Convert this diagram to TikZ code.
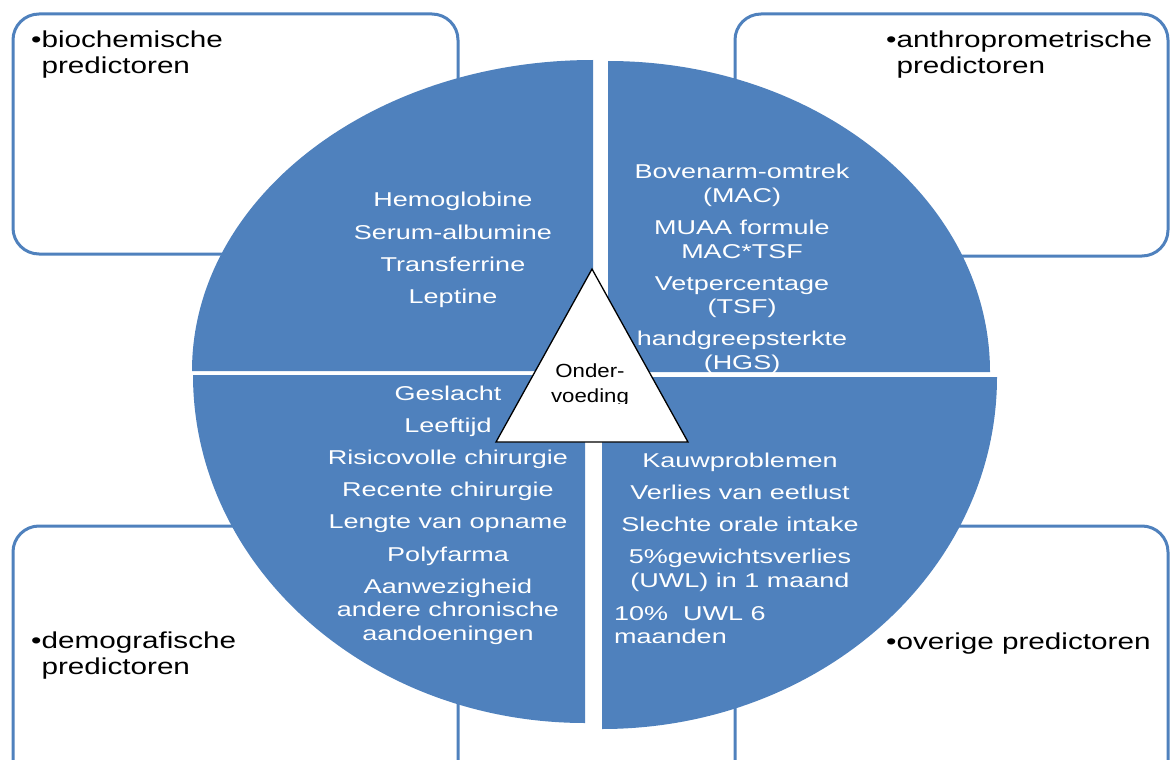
\documentclass[tikz,border=0pt]{standalone}
\usepackage{fontspec}
\setmainfont{Liberation Sans}[FakeStretch=1.29]
\newfontfamily\quadfont{Liberation Sans}[FakeStretch=1.35]
\newfontfamily\trifont{Liberation Sans}[FakeStretch=1.17]
\usepackage{xcolor}
\usepackage{tikz}
\definecolor{officeblue}{HTML}{4F81BD}

\begin{document}
\begin{tikzpicture}[
  x=1pt, y=-1pt,
  panel/.style={draw=officeblue, line width=3pt, fill=white, rounded corners=26pt},
  quad/.style={fill=officeblue},
  corner/.style={align=left, inner sep=0pt, text=black, font=\fontsize{23}{26}\selectfont},
  items/.style={align=center, inner sep=0pt, text=white, font=\quadfont\fontsize{20}{23.5}\selectfont},
  tri/.style={draw=black, line width=1.3pt, fill=white, line join=miter},
]
  \useasboundingbox (0,0) rectangle (1170,760);
  \clip (0,0) rectangle (1170,760);

  % corner panels
  \draw[panel] (13,14) rectangle (458,254);
  \draw[panel] (735,14) rectangle (1168,256);
  \draw[panel] (13,526) rectangle (458,800);
  \draw[panel] (735,526) rectangle (1168,800);

  \node[corner, anchor=west] (biolabel) at (31,55) {\textbullet biochemische\\\phantom{\textbullet}predictoren};
  \node[corner, anchor=west] (anthrolabel) at (886,55) {\textbullet anthroprometrische\\\phantom{\textbullet}predictoren};
  \node[corner, anchor=west] (demolabel) at (31,656) {\textbullet demografische\\\phantom{\textbullet}predictoren};
  \node[corner, anchor=west] (otherlabel) at (886,644) {\textbullet overige predictoren};

  % four quarters of the ellipse
  \fill[quad] (593,371) -- ++(-401,0) arc[start angle=180, end angle=90, x radius=401pt, y radius=311pt] -- cycle;
  \fill[quad] (608,372) -- ++(0,-311) arc[start angle=90, end angle=0, x radius=382pt, y radius=311pt] -- cycle;
  \fill[quad] (602,377) -- ++(395,0) arc[start angle=0, end angle=-90, x radius=395pt, y radius=352pt] -- cycle;
  \fill[quad] (585,375) -- ++(0,348) arc[start angle=270, end angle=180, x radius=392pt, y radius=348pt] -- cycle;

  \node[items] (bioitems) at (453,250) {Hemoglobine\\[8.7pt]Serum-albumine\\[8.7pt]Transferrine\\[8.7pt]Leptine};
  \node[items] (anthroitems) at (742,269) {Bovenarm-omtrek\\(MAC)\\[8.7pt]MUAA formule\\MAC*TSF\\[8.7pt]Vetpercentage\\(TSF)\\[8.7pt]handgreepsterkte\\(HGS)};
  \node[items] (demoitems) at (448,515) {Geslacht\\[8.7pt]Leeftijd\\[8.7pt]Risicovolle chirurgie\\[8.7pt]Recente chirurgie\\[8.7pt]Lengte van opname\\[8.7pt]Polyfarma\\[8.7pt]Aanwezigheid\\andere chronische\\aandoeningen};
  \node[items] (otheritems) at (740,522) {Kauwproblemen\\[8.7pt]Verlies van eetlust\\[8.7pt]Slechte orale intake\\[8.7pt]5\%gewichtsverlies\\(UWL) in 1 maand};
  \node[items, align=left, anchor=west] (tenpct) at (614,625) {10\%\ \ UWL 6\\maanden};

  % centre
  \draw[tri] (592,269) -- (688,442) -- (496,442) -- cycle;
  \begin{scope}
    \clip (496,260) rectangle (688,403);
    \node[align=center, inner sep=0pt, font=\trifont\fontsize{19}{25}\selectfont] (onder) at (590,385) {Onder-\\voeding};
  \end{scope}
\end{tikzpicture}
\end{document}
